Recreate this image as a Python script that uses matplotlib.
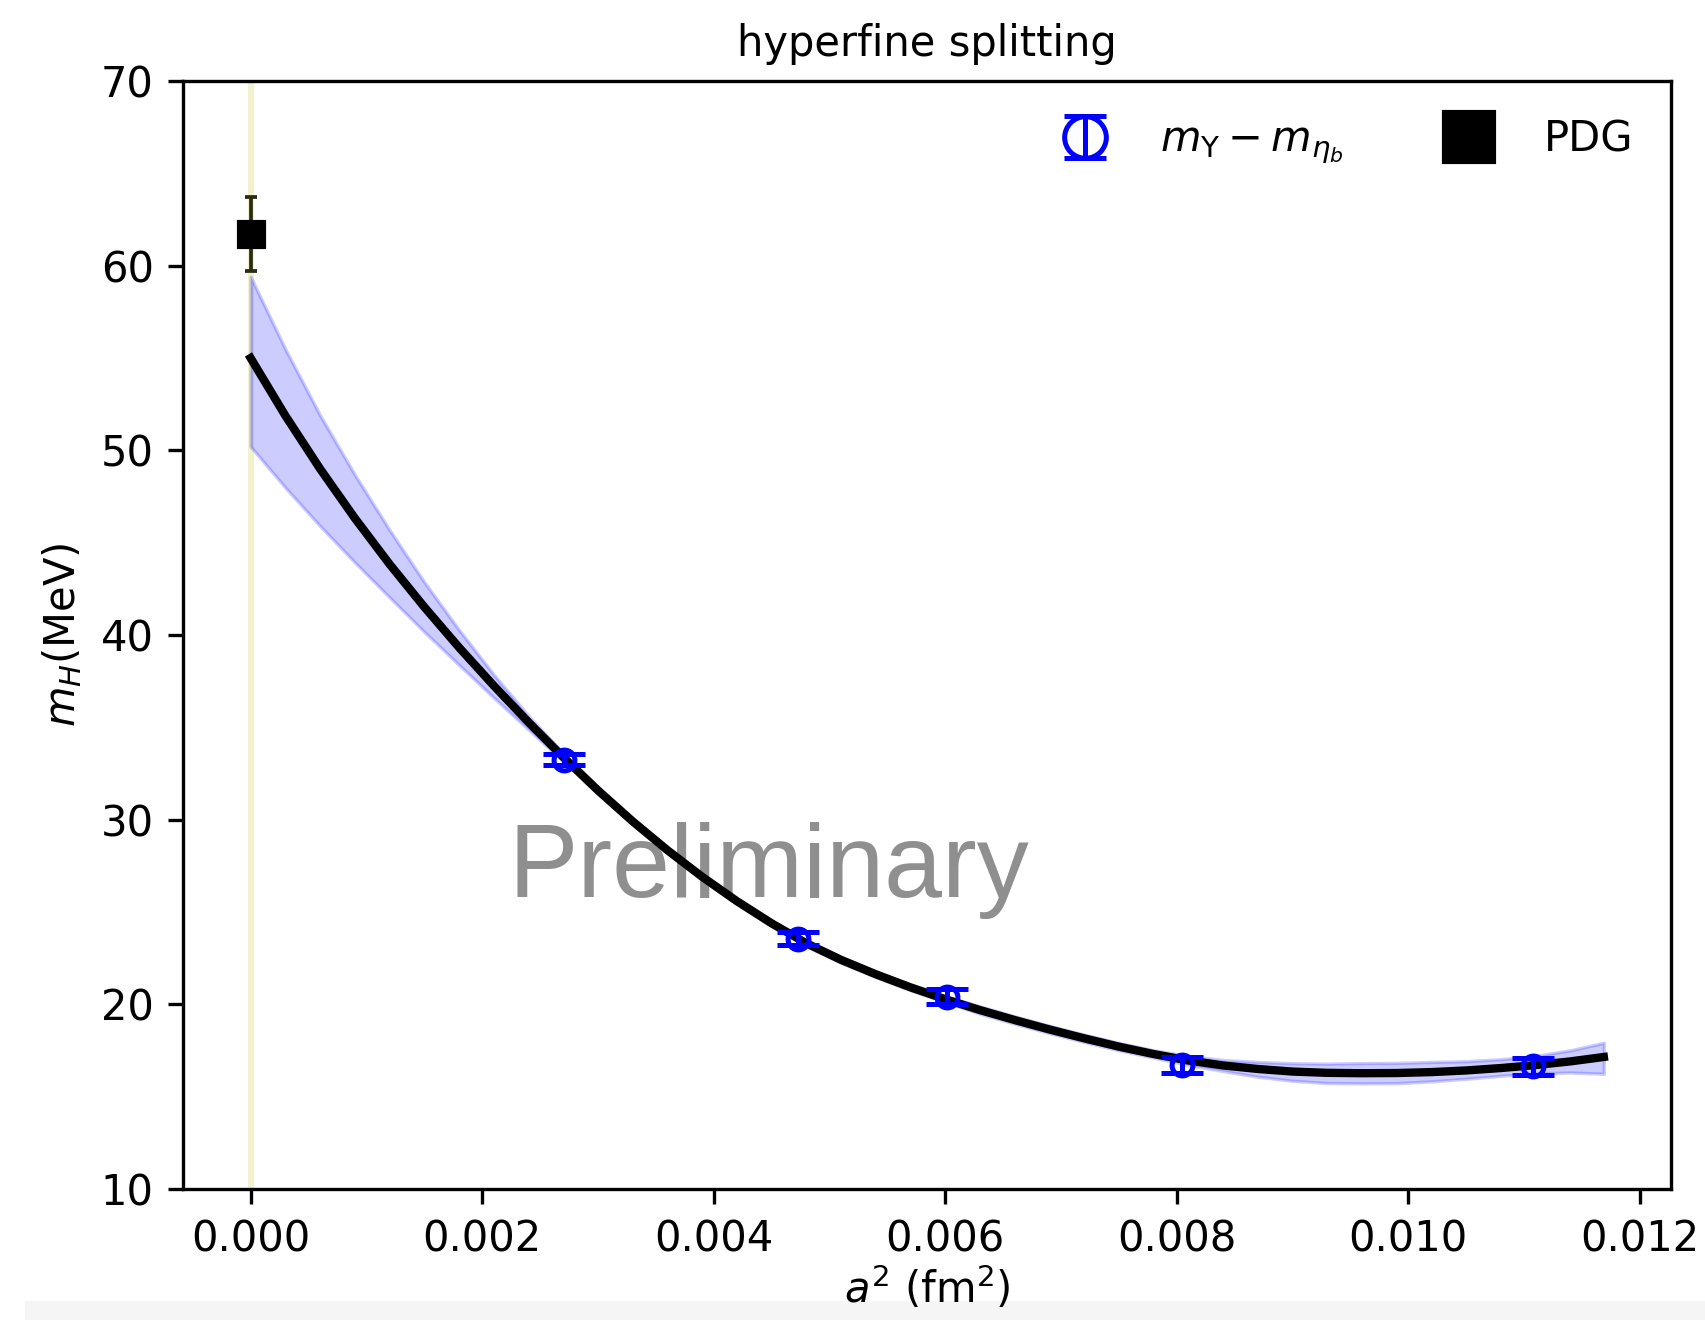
import matplotlib
matplotlib.use('Agg')
import matplotlib.pyplot as plt
from matplotlib.patches import Rectangle

# lattice data points
a2 = [0.002703, 0.004732, 0.006019, 0.008048, 0.01108]
hfs = [33.25, 23.55, 20.41, 16.72, 16.66]
hfs_err = [0.30, 0.35, 0.40, 0.43, 0.46]

# PDG value at a^2 = 0
pdg_x = [0.0]
pdg_y = [61.7]
pdg_err = [2.0]

# continuum fit curve with its error band
fit_x = [0.0, 0.0003, 0.0006, 0.0009, 0.0012, 0.0015, 0.0018, 0.0021, 0.0024, 0.0027,
         0.0030, 0.0033, 0.0036, 0.0039, 0.0042, 0.0045, 0.0048, 0.0051, 0.0054, 0.0057,
         0.0060, 0.0063, 0.0066, 0.0069, 0.0072, 0.0075, 0.0078, 0.0081, 0.0084, 0.0087,
         0.0090, 0.0093, 0.0096, 0.0099, 0.0102, 0.0105, 0.0108, 0.0111, 0.0114, 0.01169]
fit_y = [55.0, 51.88, 49.0, 46.33, 43.84, 41.52, 39.33, 37.26, 35.28, 33.39,
         31.59, 29.91, 28.35, 26.91, 25.59, 24.39, 23.31, 22.41, 21.63, 20.92,
         20.28, 19.69, 19.15, 18.64, 18.16, 17.71, 17.31, 16.96, 16.69, 16.50,
         16.36, 16.29, 16.27, 16.28, 16.33, 16.42, 16.55, 16.71, 16.91, 17.15]
fit_hi = [59.4, 55.48, 51.9, 48.68, 45.69, 42.87, 40.28, 37.86, 35.63, 33.59,
          31.74, 30.06, 28.50, 27.06, 25.74, 24.54, 23.46, 22.56, 21.78, 21.07,
          20.43, 19.89, 19.35, 18.84, 18.36, 17.91, 17.51, 17.21, 16.99, 16.88,
          16.81, 16.79, 16.82, 16.83, 16.88, 16.92, 17.03, 17.21, 17.51, 17.92]
fit_lo = [50.2, 47.98, 45.9, 43.93, 42.04, 40.17, 38.38, 36.61, 34.88, 33.17,
          31.41, 29.76, 28.20, 26.76, 25.44, 24.24, 23.16, 22.26, 21.48, 20.77,
          20.13, 19.49, 18.95, 18.44, 17.96, 17.51, 17.11, 16.71, 16.39, 16.08,
          15.86, 15.74, 15.72, 15.73, 15.83, 15.97, 16.13, 16.26, 16.31, 16.24]

fig = plt.figure(figsize=(1705/300, 1320/300), dpi=300)
ax = fig.add_axes([183/1705, 1 - 1189/1320, 1488/1705, 1108/1320])

# light grey strip at the bottom of the screenshot
fig.patches.append(Rectangle((27/1705, 0), 1, 17/1320, transform=fig.transFigure,
                             color='#f5f5f5', zorder=-1))

ax.axvline(0, color='y', alpha=0.2, lw=1.5, zorder=0)

ax.fill_between(fit_x, fit_lo, fit_hi, color='b', alpha=0.2, lw=0.8)
ax.plot(fit_x, fit_y, color='k', lw=2)

ax.errorbar(a2, hfs, yerr=hfs_err, fmt='o', color='b', mfc='none', ms=5,
            mew=1.2, elinewidth=1.2, capsize=5, capthick=1.2,
            label=r'$m_{\Upsilon}-m_{\eta_b}$')
ax.errorbar(pdg_x, pdg_y, yerr=pdg_err, fmt='s', color='k', ms=6,
            ecolor='#2b2b10', elinewidth=0.9, capsize=1.5, capthick=0.9,
            label='PDG')

ax.text(0.3938, 0.2635, 'Preliminary', transform=ax.transAxes, ha='center',
        va='baseline', fontsize=25, color='#8f8f8f', family='Liberation Sans',
        zorder=1)

ax.set_ylim(10, 70)
ax.set_xlim(-0.000584, 0.01227)
ax.set_xticks([0.0, 0.002, 0.004, 0.006, 0.008, 0.010, 0.012])
ax.set_title('hyperfine splitting', fontsize=10)
ax.set_xlabel(r'$a^2$ (fm$^2$)', labelpad=1)
ax.set_ylabel(r'$m_H$(MeV)')
ax.legend(loc='upper right', ncol=2, frameon=False, markerscale=2, fontsize=10)

fig.savefig('out.png', dpi=300)
